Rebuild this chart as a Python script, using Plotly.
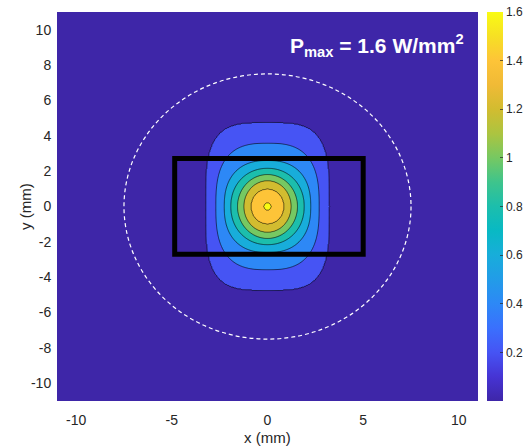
import numpy as np
import plotly.graph_objects as go

# ---- data ----
levels = [0.2, 0.4, 0.6, 0.8, 1.0, 1.2, 1.4, 1.6]          # W/mm^2 contour levels
x_radius = [3.25, 2.70, 2.26, 1.92, 1.57, 1.24, 0.87, 0.20]  # mm, half-width of each contour
y_radius = [4.76, 3.58, 2.60, 2.16, 1.81, 1.46, 1.00, 0.22]  # mm, half-height of each contour
squareness = [3.6, 2.8, 2.4, 2.1, 2.0, 2.0, 2.0, 2.0]        # superellipse exponent of each contour
p_peak = 1.63
circle_radius = 7.5
rect_x = [-4.85, 5.0]
rect_y = [-2.7, 2.72]
x_ticks = [-10, -5, 0, 5, 10]
x_labels = ["-10", "-5", "0", "5", "10"]
y_ticks = [-10, -8, -6, -4, -2, 0, 2, 4, 6, 8, 10]
y_labels = ["-10", "-8", "-6", "-4", "-2", "0", "2", "4", "6", "8", "10"]
cbar_ticks = [0.2, 0.4, 0.6, 0.8, 1.0, 1.2, 1.4, 1.6]
cbar_labels = ["0.2", "0.4", "0.6", "0.8", "1", "1.2", "1.4", "1.6"]

# parula-like colour map
parula = [
    [0.0, "rgb(62,38,168)"], [0.0625, "rgb(70,52,212)"], [0.125, "rgb(70,84,244)"],
    [0.1875, "rgb(58,112,253)"], [0.25, "rgb(45,136,246)"], [0.3125, "rgb(34,156,232)"],
    [0.375, "rgb(24,173,218)"], [0.4375, "rgb(8,185,196)"], [0.5, "rgb(28,190,172)"],
    [0.5625, "rgb(62,196,140)"], [0.625, "rgb(118,200,98)"], [0.6875, "rgb(172,196,64)"],
    [0.75, "rgb(210,188,48)"], [0.8125, "rgb(240,186,54)"], [0.875, "rgb(253,196,56)"],
    [0.9375, "rgb(246,224,36)"], [1.0, "rgb(249,251,20)"],
]

# ---- build field from the contour shapes ----
xs = np.concatenate([np.arange(-11, -4.0, 0.5), np.arange(-4.0, 4.0001, 0.05), np.arange(4.5, 11.001, 0.5)])
ys = np.concatenate([np.arange(-11, -5.5, 0.5), np.arange(-5.5, 5.5001, 0.05), np.arange(6.0, 11.001, 0.5)])
X, Y = np.meshgrid(xs, ys)
R = []
for a, b, p in zip(x_radius, y_radius, squareness):
    R.append(((np.abs(X) / a) ** p + (np.abs(Y) / b) ** p) ** (1.0 / p))
R = np.array(R)
count = (R <= 1).sum(axis=0)
Z = np.zeros_like(X)
n = len(levels)
outside = count == 0
Z[outside] = levels[0] / np.maximum(R[0][outside], 1) ** 2 * 0.9
inner = count == n
Z[inner] = levels[-1] + (p_peak - levels[-1]) * (1 - R[-1][inner])
for k in range(n - 1):
    m = count == k + 1
    d0 = 1 - R[k][m]
    d1 = R[k + 1][m] - 1
    Z[m] = levels[k] + (levels[k + 1] - levels[k]) * d0 / (d0 + d1)
Z = np.round(Z, 4)

FONT = "Arial, Liberation Sans, sans-serif"

fig = go.Figure()
fig.add_trace(go.Contour(
    x=xs, y=ys, z=Z.tolist(),
    colorscale=parula,
    contours=dict(start=levels[0], end=levels[-1], size=0.2, coloring="fill"),
    line=dict(color="rgba(0,0,0,0.85)", width=0.7),
    showscale=False, hoverinfo="skip",
))
# dummy trace for a continuous colour bar
fig.add_trace(go.Scatter(
    x=[None, None], y=[None, None], mode="markers",
    marker=dict(color=[0, 1.6], cmin=0, cmax=1.6, colorscale=parula, showscale=True,
                colorbar=dict(x=1.0207, xanchor="left", xpad=0, y=0.5, yanchor="middle", ypad=0,
                              len=1, lenmode="fraction", thickness=16, outlinewidth=0,
                              tickvals=cbar_ticks, ticktext=cbar_labels, ticks="inside",
                              ticklen=3, tickcolor="rgba(38,38,38,0.7)",
                              tickfont=dict(family=FONT, size=12, color="#262626"))),
    showlegend=False, hoverinfo="skip",
))

fig.add_shape(type="circle", xref="x", yref="y",
              x0=-circle_radius, x1=circle_radius, y0=-circle_radius, y1=circle_radius,
              line=dict(color="white", width=1.2, dash="4px,3px"))
fig.add_shape(type="rect", xref="x", yref="y",
              x0=rect_x[0], x1=rect_x[1], y0=rect_y[0], y1=rect_y[1],
              line=dict(color="black", width=5))

fig.add_annotation(xref="paper", yref="paper", x=0.549, y=0.915, xanchor="left", yanchor="middle",
                   text="<b>P<sub>max</sub> = 1.6 W/mm<sup>2</sup></b>", showarrow=False,
                   font=dict(family=FONT, size=21, color="white"))
fig.add_annotation(xref="paper", yref="paper", x=0.5, y=-0.0935, xanchor="center", yanchor="middle",
                   text="x (mm)", showarrow=False,
                   font=dict(family=FONT, size=15, color="#262626"))
fig.add_annotation(xref="paper", yref="paper", x=-0.076, y=0.4987, xanchor="center", yanchor="middle",
                   text="y (mm)", textangle=-90, showarrow=False,
                   font=dict(family=FONT, size=15, color="#262626"))

axis_common = dict(showgrid=False, zeroline=False, showline=False, ticks="outside",
                   tickcolor="rgba(0,0,0,0)",
                   tickfont=dict(family=FONT, size=14, color="#262626"))
fig.update_xaxes(range=[-11, 11], tickvals=x_ticks, ticktext=x_labels, ticklen=6, **axis_common)
fig.update_yaxes(range=[-11, 11], tickvals=y_ticks, ticktext=y_labels, ticklen=2, **axis_common)

fig.update_layout(width=528, height=448, margin=dict(l=57, r=50, t=12, b=47, autoexpand=False),
                  paper_bgcolor="white", plot_bgcolor="rgb(62,38,168)", showlegend=False)
fig.write_html("out.html")
